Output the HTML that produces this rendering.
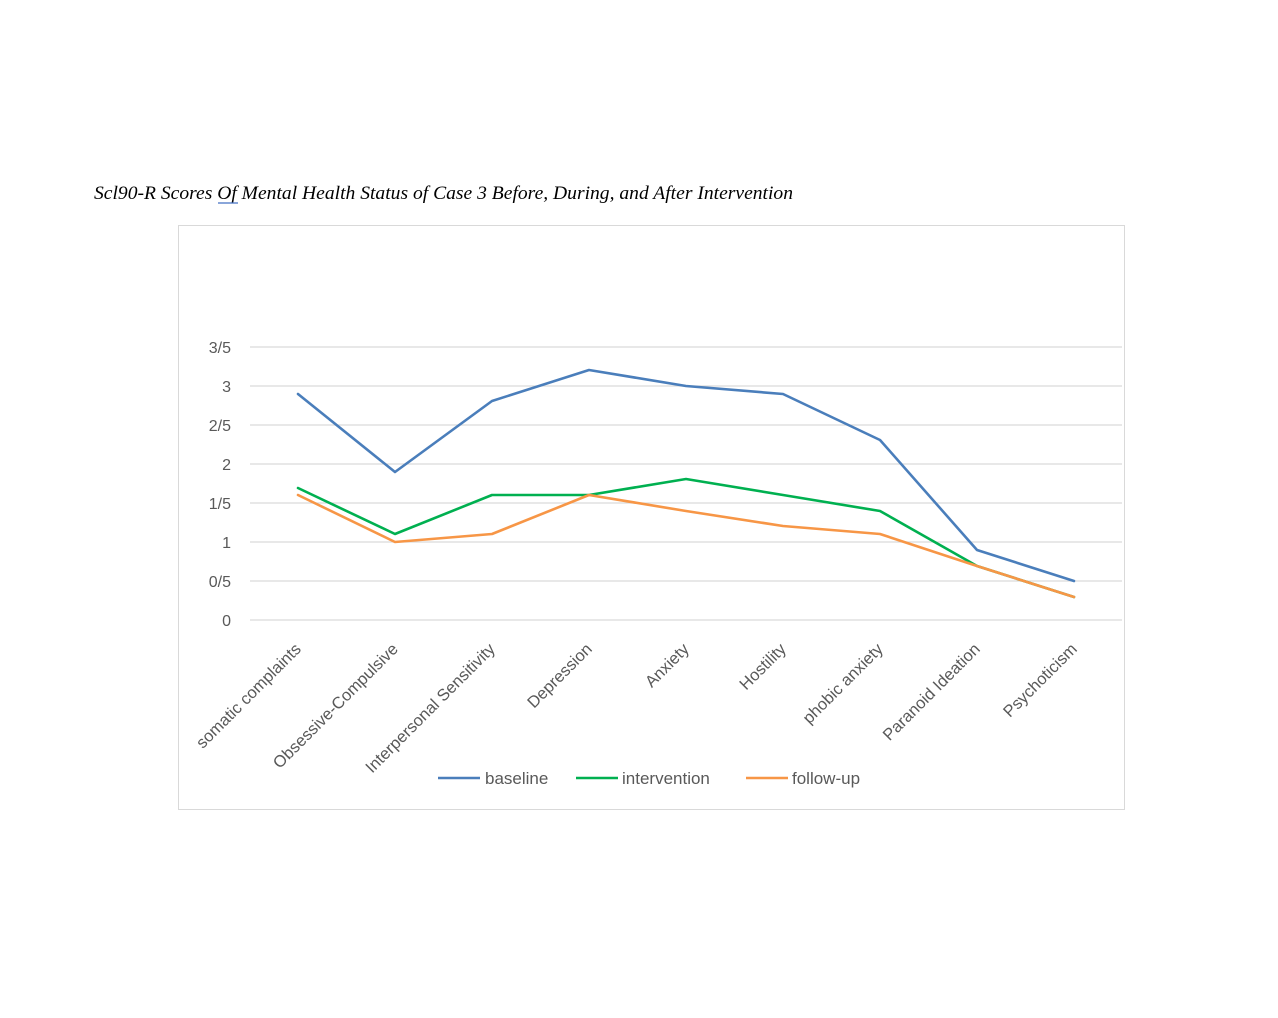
<!DOCTYPE html>
<html><head><style>body{margin:0;background:#fff}</style></head><body>
<svg width="1278" height="1018" xmlns="http://www.w3.org/2000/svg" style="display:block">
<rect width="1278" height="1018" fill="#fff"/>
<text x="94" y="199" font-family="Liberation Serif, serif" font-style="italic" font-size="18.5" fill="#000" textLength="699" lengthAdjust="spacingAndGlyphs">Scl90-R Scores Of Mental Health Status of Case 3 Before, During, and After Intervention</text>
<line x1="218" y1="203" x2="238" y2="203" stroke="#4472c4" stroke-width="1.2"/>
<rect x="178.5" y="225.5" width="946" height="584" fill="#fff" stroke="#d9d9d9"/>
<g stroke="#d9d9d9" stroke-width="1.2">
<line x1="250" x2="1122" y1="347" y2="347"/><line x1="250" x2="1122" y1="386" y2="386"/>
<line x1="250" x2="1122" y1="425" y2="425"/><line x1="250" x2="1122" y1="464" y2="464"/>
<line x1="250" x2="1122" y1="503" y2="503"/><line x1="250" x2="1122" y1="542" y2="542"/>
<line x1="250" x2="1122" y1="581" y2="581"/><line x1="250" x2="1122" y1="620" y2="620"/>
</g>
<g font-family="Liberation Sans, sans-serif" font-size="16" fill="#595959" text-anchor="end">
<text x="231" y="353">3/5</text><text x="231" y="392">3</text><text x="231" y="431">2/5</text>
<text x="231" y="470">2</text><text x="231" y="509">1/5</text><text x="231" y="548">1</text>
<text x="231" y="587">0/5</text><text x="231" y="626">0</text>
</g>
<g font-family="Liberation Sans, sans-serif" font-size="16.5" fill="#595959" text-anchor="end">
<text transform="translate(302,650) rotate(-45)">somatic complaints</text>
<text transform="translate(399,650) rotate(-45)">Obsessive-Compulsive</text>
<text transform="translate(496,650) rotate(-45)">Interpersonal Sensitivity</text>
<text transform="translate(593,650) rotate(-45)">Depression</text>
<text transform="translate(690,650) rotate(-45)">Anxiety</text>
<text transform="translate(787,650) rotate(-45)">Hostility</text>
<text transform="translate(884,650) rotate(-45)">phobic anxiety</text>
<text transform="translate(981,650) rotate(-45)">Paranoid Ideation</text>
<text transform="translate(1078,650) rotate(-45)">Psychoticism</text>
</g>
<g fill="none" stroke-width="2.6" stroke-linejoin="round" stroke-linecap="round">
<polyline stroke="#4a7ebb" points="298,394 395,472 492,401 589,370 686,386 783,394 880,440 977,550 1074,581"/>
<polyline stroke="#00b050" points="298,488 395,534 492,495 589,495 686,479 783,495 880,511 977,566 1074,597"/>
<polyline stroke="#f79646" points="298,495 395,542 492,534 589,495 686,511 783,526 880,534 977,566 1074,597"/>
</g>
<g font-family="Liberation Sans, sans-serif" font-size="17" fill="#595959">
<line x1="438" x2="480" y1="778" y2="778" stroke="#4a7ebb" stroke-width="2.6"/><text x="485" y="784">baseline</text>
<line x1="576" x2="618" y1="778" y2="778" stroke="#00b050" stroke-width="2.6"/><text x="622" y="784">intervention</text>
<line x1="746" x2="788" y1="778" y2="778" stroke="#f79646" stroke-width="2.6"/><text x="792" y="784">follow-up</text>
</g>
</svg>
</body></html>
